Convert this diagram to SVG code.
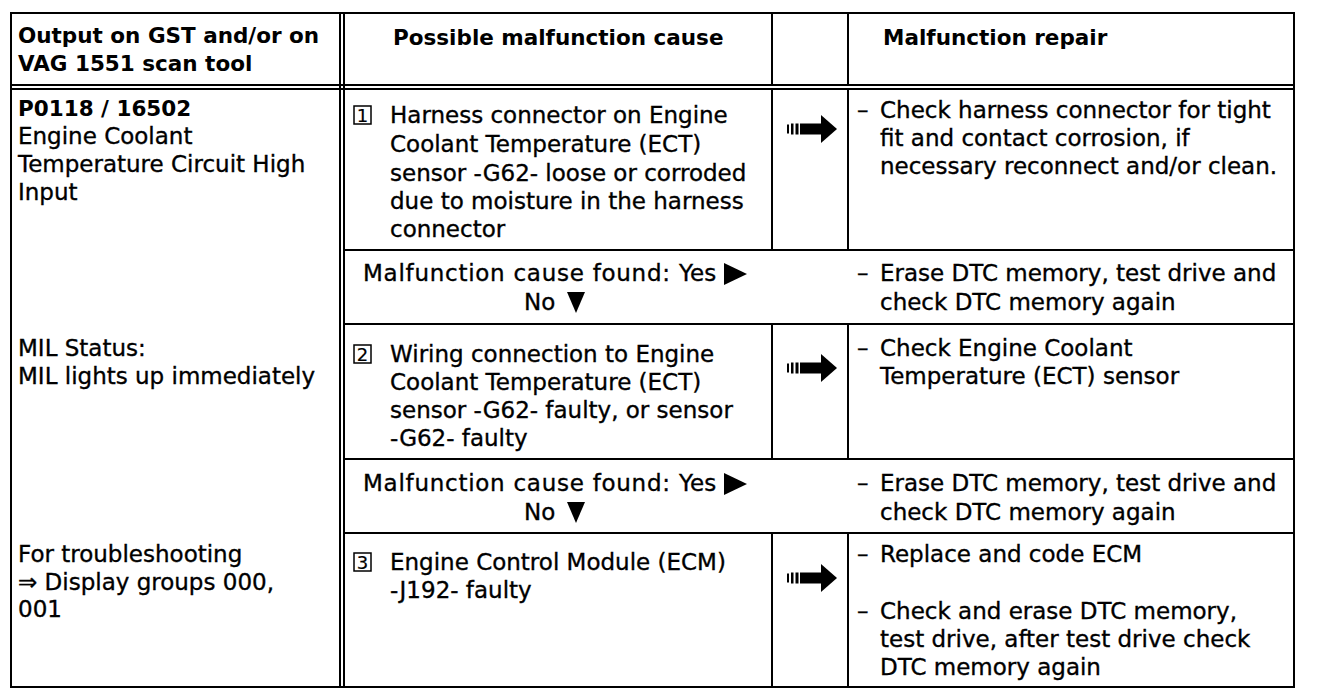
<svg xmlns="http://www.w3.org/2000/svg" width="1344" height="696" viewBox="0 0 1344 696">
<style>
text{font-family:"DejaVu Sans","Liberation Sans",Arial,sans-serif;font-size:23px;fill:#000;stroke:#000;stroke-width:0.35}
.b{font-weight:bold;font-size:21.5px;stroke-width:0}
.ln{stroke:#000;stroke-width:2;fill:none}
.num{font-size:18px;text-anchor:middle;stroke-width:0.2}
.box{fill:none;stroke:#000;stroke-width:1.5}
</style>
<defs>
<g id="arr">
<rect x="0" y="-4.5" width="2" height="9"/>
<rect x="4" y="-5.5" width="2.5" height="11"/>
<rect x="8.5" y="-5.5" width="3" height="11"/>
<rect x="13" y="-5.5" width="22" height="11"/>
<polygon points="34,-14 50,0 34,14"/>
</g>
</defs>
<rect width="1344" height="696" fill="#fff"/>
<g id="grid">
<rect class="ln" x="11" y="13" width="1283" height="674"/>
<line class="ln" x1="11" y1="85" x2="1294" y2="85"/>
<line class="ln" x1="11" y1="89" x2="1294" y2="89"/>
<line class="ln" x1="340" y1="13" x2="340" y2="687"/>
<line class="ln" x1="344" y1="13" x2="344" y2="687"/>
<line class="ln" x1="772" y1="13" x2="772" y2="85"/>
<line class="ln" x1="848" y1="13" x2="848" y2="85"/>
<line class="ln" x1="772" y1="89" x2="772" y2="250"/>
<line class="ln" x1="848" y1="89" x2="848" y2="250"/>
<line class="ln" x1="772" y1="324" x2="772" y2="459"/>
<line class="ln" x1="848" y1="324" x2="848" y2="459"/>
<line class="ln" x1="772" y1="533" x2="772" y2="687"/>
<line class="ln" x1="848" y1="533" x2="848" y2="687"/>
<line class="ln" x1="344" y1="250" x2="1294" y2="250"/>
<line class="ln" x1="344" y1="324" x2="1294" y2="324"/>
<line class="ln" x1="344" y1="459" x2="1294" y2="459"/>
<line class="ln" x1="344" y1="533" x2="1294" y2="533"/>
</g>
<g id="header">
<text class="b" x="18" y="43">Output on GST and/or on</text>
<text class="b" x="18" y="71">VAG 1551 scan tool</text>
<text class="b" x="393" y="45">Possible malfunction cause</text>
<text class="b" x="883" y="45">Malfunction repair</text>
</g>
<g id="fault">
<text class="b" x="18" y="116">P0118 / 16502</text>
<text x="18" y="144">Engine Coolant</text>
<text x="18" y="172">Temperature Circuit High</text>
<text x="18" y="200">Input</text>
<text x="18" y="356">MIL Status:</text>
<text x="18" y="384">MIL lights up immediately</text>
<text x="18" y="562">For troubleshooting</text>
<text x="18" y="590">⇒ Display groups 000,</text>
<text x="18" y="617">001</text>
</g>
<g id="cause1">
<rect class="box" x="354" y="106" width="17" height="18"/>
<text class="num" x="362.5" y="121.5">1</text>
<text x="390" y="123">Harness connector on Engine</text>
<text x="390" y="152">Coolant Temperature (ECT)</text>
<text x="390" y="181">sensor -G62- loose or corroded</text>
<text x="390" y="209">due to moisture in the harness</text>
<text x="390" y="237">connector</text>
</g>
<g id="repair1">
<text x="857" y="118">–</text>
<text x="880" y="118">Check harness connector for tight</text>
<text x="880" y="146">fit and contact corrosion, if</text>
<text x="880" y="174">necessary reconnect and/or clean.</text>
</g>
<g id="decision1">
<text x="363" y="281" textLength="307" lengthAdjust="spacing">Malfunction cause found:</text>
<text x="679" y="281">Yes</text>
<polygon points="724,263 747,274 724,285"/>
<text x="524" y="310">No</text>
<polygon points="567,292 585,292 576,313"/>
<text x="857" y="281">–</text>
<text x="880" y="281">Erase DTC memory, test drive and</text>
<text x="880" y="310">check DTC memory again</text>
</g>
<g id="cause2">
<rect class="box" x="354" y="345" width="17" height="18"/>
<text class="num" x="362.5" y="360.5">2</text>
<text x="390" y="362">Wiring connection to Engine</text>
<text x="390" y="390">Coolant Temperature (ECT)</text>
<text x="390" y="418">sensor -G62- faulty, or sensor</text>
<text x="390" y="446">-G62- faulty</text>
</g>
<g id="repair2">
<text x="857" y="356">–</text>
<text x="880" y="356">Check Engine Coolant</text>
<text x="880" y="384">Temperature (ECT) sensor</text>
</g>
<g id="decision2">
<text x="363" y="491" textLength="307" lengthAdjust="spacing">Malfunction cause found:</text>
<text x="679" y="491">Yes</text>
<polygon points="724,473 747,484 724,495"/>
<text x="524" y="520">No</text>
<polygon points="567,502 585,502 576,523"/>
<text x="857" y="491">–</text>
<text x="880" y="491">Erase DTC memory, test drive and</text>
<text x="880" y="520">check DTC memory again</text>
</g>
<g id="cause3">
<rect class="box" x="354" y="553" width="17" height="18"/>
<text class="num" x="362.5" y="568.5">3</text>
<text x="390" y="570">Engine Control Module (ECM)</text>
<text x="390" y="598">-J192- faulty</text>
</g>
<g id="repair3">
<text x="857" y="562">–</text>
<text x="880" y="562">Replace and code ECM</text>
<text x="857" y="619">–</text>
<text x="880" y="619">Check and erase DTC memory,</text>
<text x="880" y="647">test drive, after test drive check</text>
<text x="880" y="675">DTC memory again</text>
</g>
<g id="connectors">
<use href="#arr" x="787" y="129"/>
<use href="#arr" x="787" y="368"/>
<use href="#arr" x="787" y="578"/>
</g>
</svg>
